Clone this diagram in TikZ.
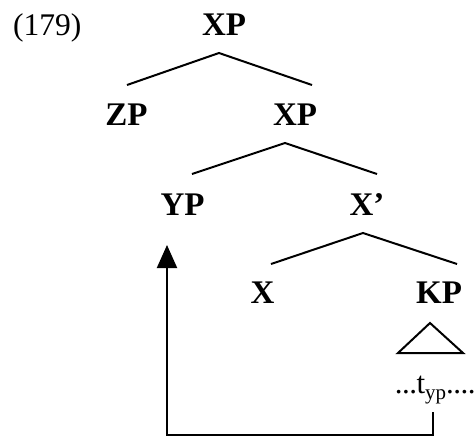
\documentclass[tikz,border=0pt]{standalone}
\usepackage{fontspec}
\setmainfont{Liberation Serif}
\usetikzlibrary{arrows.meta,calc}
\newcommand{\dt}{.\kern-0.5pt}
\tikzset{
  lab/.style={inner sep=0pt,anchor=base,font=\fontsize{33}{36}\selectfont\bfseries},
  edge/.style={line width=2pt},
  mv/.style={line width=2pt,-{Triangle[length=23pt,width=20pt]}}
}
\begin{document}
\begin{tikzpicture}[x=1pt,y=-1pt]
\useasboundingbox (0,0) rectangle (475,437);
\node[inner sep=0pt,anchor=base west,font=\fontsize{31.5}{36}\selectfont] (num) at (13,35) {(179)};
\node[lab] (xp1) at (224,35) {XP};
\node[lab] (zp) at (126.5,125) {ZP};
\node[lab] (xp2) at (295,125) {XP};
\node[lab] (yp) at (182.5,215) {YP};
\node[lab] (xbar) at (367,215) {X’};
\node[lab] (x) at (262.5,303) {X};
\node[lab] (kp) at (439,303) {KP};
\node[inner sep=0pt,anchor=base,font=\fontsize{31}{32}\selectfont] (t) at (435,393) {\dt\dt\dt t\raisebox{-6pt}{\fontsize{21}{22}\selectfont yp}\dt\dt\dt\dt};
% edges
\draw[edge] ($(zp.base)+(0.5,-40)$) -- ($(xp1.base)+(-5,18)$) -- ($(xp2.base)+(17,-40)$);
\draw[edge] ($(yp.base)+(9.5,-41)$) -- ($(xp2.base)+(-10,18)$) -- ($(xbar.base)+(10,-41)$);
\draw[edge] ($(x.base)+(8.5,-39)$) -- ($(xbar.base)+(-4,18)$) -- ($(kp.base)+(18,-39)$);
% triangle
\draw[edge,line join=miter] ($(kp.base)+(-9,20)$) -- ($(kp.base)+(-41,50)$) -- ($(kp.base)+(24,50)$) -- cycle;
% movement arrow
\coordinate (tgt) at ($(yp.base)+(-15.5,30)$);
\coordinate (tb) at ($(t.base)+(-2,19)$);
\draw[mv] (tb) -- ++(0,23) -| (tgt);
\end{tikzpicture}
\end{document}
